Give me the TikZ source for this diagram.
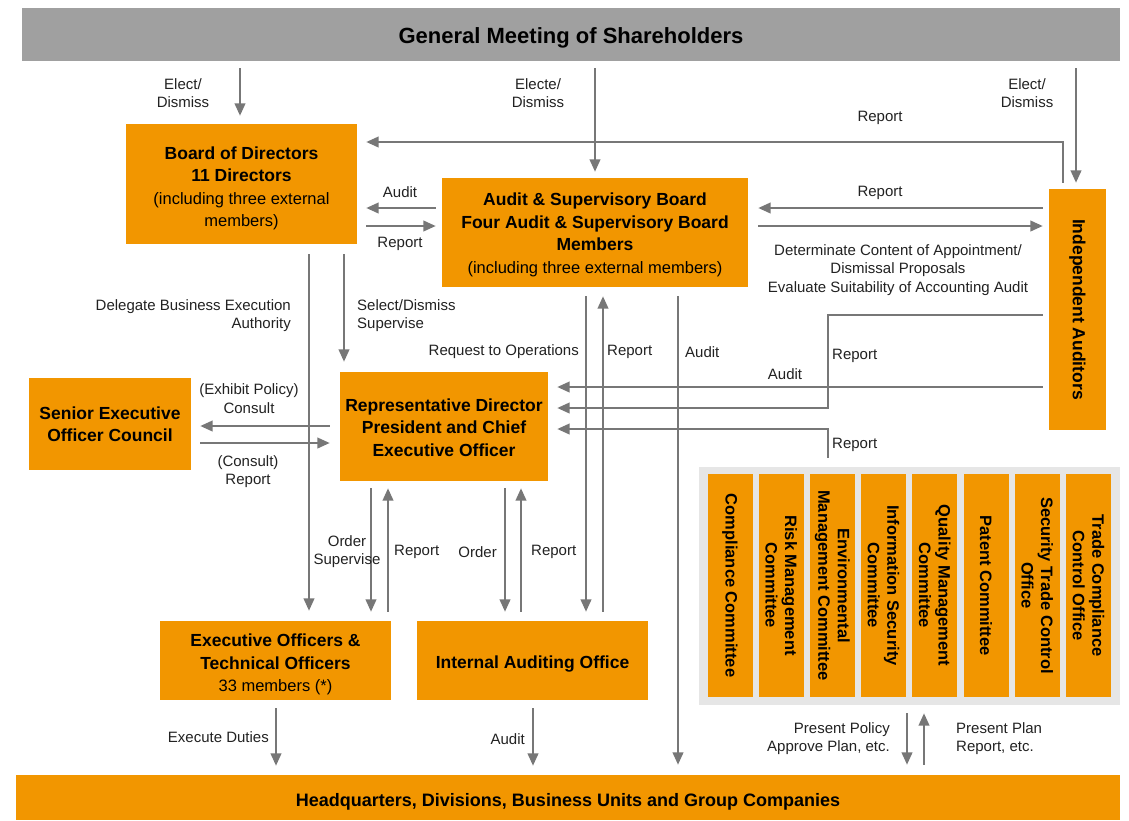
\documentclass[tikz,border=0pt]{standalone}
\usepackage{fontspec}
\setmainfont{Liberation Sans}
\usetikzlibrary{arrows.meta}
\definecolor{org}{HTML}{F29600}
\definecolor{gbar}{HTML}{A0A0A0}
\definecolor{panelc}{HTML}{E6E6E6}
\definecolor{arrc}{HTML}{777777}
\definecolor{labc}{HTML}{222222}
\begin{document}
\begin{tikzpicture}[x=1pt,y=-1pt,
  obox/.style={fill=org, draw=none, inner sep=0pt},
  btxt/.style={align=center, inner sep=0pt, text=black, font=\fontsize{17.5}{22.5}\selectfont\bfseries},
  arr/.style={draw=arrc, line width=2.5pt, -{Triangle[length=12.5pt,width=10.5pt]}},
  lab/.style={inner sep=0pt, font=\fontsize{15}{18.5}\selectfont, text=labc},
  cmtbox/.style={fill=org, inner sep=0pt, align=center, rotate=-90, minimum width=223pt, minimum height=45pt, font=\fontsize{16.5}{19.5}\selectfont\bfseries},
  ]
\useasboundingbox (0,0) rectangle (1129,820);
\fill[white] (0,0) rectangle (1129,820);

% boxes
\node[obox, fill=gbar, minimum width=1098pt, minimum height=53pt,
  label={[btxt, font=\fontsize{22}{26}\selectfont\bfseries, yshift=-3pt]center:General Meeting of Shareholders}] (gms) at (571,34.5) {};
\node[obox, minimum width=1104pt, minimum height=45pt,
  label={[btxt, font=\fontsize{18}{22}\selectfont\bfseries, yshift=-4pt]center:{Headquarters, Divisions, Business Units and Group Companies}}] (hq) at (568,797.5) {};

\node[obox, minimum width=231pt, minimum height=120pt,
  label={[btxt, yshift=-4.5pt]center:{Board of Directors\\11 Directors\\{\mdseries\fontsize{16.5}{22}\selectfont (including three external}\\{\mdseries\fontsize{16.5}{22}\selectfont members)}}}] (board) at (241.5,184) {};
\node[obox, minimum width=306pt, minimum height=109pt,
  label={[btxt, yshift=-2.5pt]center:{Audit \& Supervisory Board\\Four Audit \& Supervisory Board\\Members\\{\mdseries\fontsize{16.5}{22.5}\selectfont (including three external members)}}}] (asb) at (595,232.5) {};
\node[obox, minimum width=57pt, minimum height=241pt,
  label={[btxt, rotate=-90]center:Independent Auditors}] (ia) at (1077.5,309.5) {};
\node[obox, minimum width=162pt, minimum height=92pt,
  label={[btxt]center:{Senior Executive\\Officer Council}}] (seoc) at (110,424) {};
\node[obox, minimum width=208pt, minimum height=109pt,
  label={[btxt, yshift=-1pt]center:{Representative Director\\President and Chief\\Executive Officer}}] (rep) at (444,426.5) {};
\node[obox, minimum width=231pt, minimum height=79pt,
  label={[btxt, yshift=-4pt]center:{Executive Officers \&\\Technical Officers\\{\mdseries\fontsize{16.5}{22.5}\selectfont 33 members (*)}}}] (exec) at (275.5,660.5) {};
\node[obox, minimum width=231pt, minimum height=79pt,
  label={[btxt, yshift=-4pt]center:Internal Auditing Office}] (iao) at (532.5,660.5) {};

% committees panel
\node[fill=panelc, inner sep=0pt, minimum width=421pt, minimum height=238pt] (panel) at (909.5,586) {};
\node[cmtbox] (c1) at (730,585.5) {Compliance Committee};
\node[cmtbox] (c2) at (781.2,585.5) {Risk Management\\Committee};
\node[cmtbox] (c3) at (832.4,585.5) {Environmental\\Management Committee};
\node[cmtbox] (c4) at (883.6,585.5) {Information Security\\Committee};
\node[cmtbox] (c5) at (934.8,585.5) {Quality Management\\Committee};
\node[cmtbox] (c6) at (986,585.5) {Patent Committee};
\node[cmtbox] (c7) at (1037.2,585.5) {Security Trade Control\\Office};
\node[cmtbox] (c8) at (1088.4,585.5) {Trade Compliance\\Control Office};

% helper coordinates
\coordinate (yR1) at (0,142);
\coordinate (yA1) at (0,208);
\coordinate (yA2) at (0,226);
\coordinate (yI1) at (0,315);
\coordinate (yI2) at (0,387);
\coordinate (yI3) at (0,408);
\coordinate (yI4) at (0,429);
\coordinate (yS1) at (0,426);
\coordinate (yS2) at (0,443);
\coordinate (x309) at (309,0);
\coordinate (x344) at (344,0);
\coordinate (x586) at (586,0);
\coordinate (x603) at (603,0);
\coordinate (x678) at (678,0);
\coordinate (x828) at (828,0);
\coordinate (x371) at (371,0);
\coordinate (x388) at (388,0);
\coordinate (x505) at (505,0);
\coordinate (x521) at (521,0);
\coordinate (x276) at (276,0);
\coordinate (x533) at (533,0);
\coordinate (x907) at (907,0);
\coordinate (x924) at (924,0);
\coordinate (x1063) at (1063,0);
\coordinate (x240) at (240,0);
\coordinate (x1076) at (1076,0);

% connectors from GMS
\draw[arr, shorten <=7pt, shorten >=8pt] (gms.south -| x240) -- (board.north -| x240);
\draw[arr, shorten <=7pt, shorten >=6pt] (gms.south -| asb.north) -- (asb.north);
\draw[arr, shorten <=7pt, shorten >=6pt] (gms.south -| x1076) -- (ia.north -| x1076);

% IA report to board
\draw[arr, shorten <=6pt, shorten >=9pt] (ia.north -| x1063) |- (board.east |- yR1);
% board <-> asb
\draw[arr, shorten <=6pt, shorten >=9pt] (asb.west |- yA1) -- (board.east |- yA1);
\draw[arr, shorten <=9pt, shorten >=6pt] (board.east |- yA2) -- (asb.west |- yA2);
% asb <-> ia
\draw[arr, shorten <=6pt, shorten >=10pt] (ia.west |- yA1) -- (asb.east |- yA1);
\draw[arr, shorten <=10pt, shorten >=6pt] (asb.east |- yA2) -- (ia.west |- yA2);

% board down
\draw[arr, shorten <=10pt, shorten >=10pt] (board.south -| x309) -- (exec.north -| x309);
\draw[arr, shorten <=10pt, shorten >=10pt] (board.south -| x344) -- (rep.north -| x344);

% asb down
\draw[arr, shorten <=9pt, shorten >=9pt] (asb.south -| x586) -- (iao.north -| x586);
\draw[arr, shorten <=9pt, shorten >=9pt] (iao.north -| x603) -- (asb.south -| x603);
\draw[arr, shorten <=9pt, shorten >=10pt] (asb.south -| x678) -- (hq.north -| x678);

% IA to rep
\draw[arr, shorten <=6pt, shorten >=9pt] (ia.west |- yI2) -- (rep.east |- yI2);
\draw[arr, shorten <=6pt, shorten >=9pt] (ia.west |- yI1) -- (x828 |- yI1) -- (x828 |- yI3) -- (rep.east |- yI3);
\draw[arr, shorten <=9pt, shorten >=9pt] (panel.north -| x828) -- (x828 |- yI4) -- (rep.east |- yI4);

% rep <-> seoc
\draw[arr, shorten <=10pt, shorten >=9pt] (rep.west |- yS1) -- (seoc.east |- yS1);
\draw[arr, shorten <=9pt, shorten >=10pt] (seoc.east |- yS2) -- (rep.west |- yS2);

% rep <-> exec, iao
\draw[arr, shorten <=7pt, shorten >=9pt] (rep.south -| x371) -- (exec.north -| x371);
\draw[arr, shorten <=9pt, shorten >=7pt] (exec.north -| x388) -- (rep.south -| x388);
\draw[arr, shorten <=7pt, shorten >=9pt] (rep.south -| x505) -- (iao.north -| x505);
\draw[arr, shorten <=9pt, shorten >=7pt] (iao.north -| x521) -- (rep.south -| x521);

% to HQ
\draw[arr, shorten <=8pt, shorten >=9pt] (exec.south -| x276) -- (hq.north -| x276);
\draw[arr, shorten <=8pt, shorten >=9pt] (iao.south -| x533) -- (hq.north -| x533);
\draw[arr, shorten <=8pt, shorten >=10pt] (panel.south -| x907) -- (hq.north -| x907);
\draw[arr, shorten <=10pt, shorten >=8pt] (hq.north -| x924) -- (panel.south -| x924);

% labels
\node[lab, align=center] (l1) at (183,93) {Elect/\\Dismiss};
\node[lab, align=center] (l2) at (538,93) {Electe/\\Dismiss};
\node[lab, align=center] (l3) at (1027,93) {Elect/\\Dismiss};
\node[lab] (l4) at (880,118) {Report};
\node[lab] (l5) at (400,192) {Audit};
\node[lab] (l6) at (400,244) {Report};
\node[lab] (l7) at (880,193) {Report};
\node[lab, align=center] (l8) at (898,270) {Determinate Content of Appointment/\\Dismissal Proposals\\Evaluate Suitability of Accounting Audit};
\node[lab, align=right, anchor=east] (l9) at (291,315.5) {Delegate Business Execution\\Authority};
\node[lab, align=left, anchor=west] (l10) at (357,315.5) {Select/Dismiss\\Supervise};
\node[lab, anchor=east] (l11) at (579,352) {Request to Operations};
\node[lab, anchor=west] (l12) at (607,352) {Report};
\node[lab, anchor=west] (l13) at (685,352) {Audit};
\node[lab, anchor=west] (l14) at (832,356) {Report};
\node[lab] (l15) at (785,374) {Audit};
\node[lab, anchor=west] (l16) at (832,445) {Report};
\node[lab, align=center] (l17) at (249,398.5) {(Exhibit Policy)\\Consult};
\node[lab, align=center] (l18) at (248,471.5) {(Consult)\\Report};
\node[lab, align=center] (l19) at (347,551.5) {Order\\Supervise};
\node[lab, anchor=west] (l20) at (394,552) {Report};
\node[lab, anchor=east] (l21) at (497,552) {Order};
\node[lab, anchor=west] (l22) at (531,552) {Report};
\node[lab, anchor=east] (l23) at (269,737) {Execute Duties};
\node[lab, anchor=east] (l24) at (525,739) {Audit};
\node[lab, align=right, anchor=east] (l25) at (890,738.5) {Present Policy\\Approve Plan, etc.};
\node[lab, align=left, anchor=west] (l26) at (956,738.5) {Present Plan\\Report, etc.};
\end{tikzpicture}
\end{document}
